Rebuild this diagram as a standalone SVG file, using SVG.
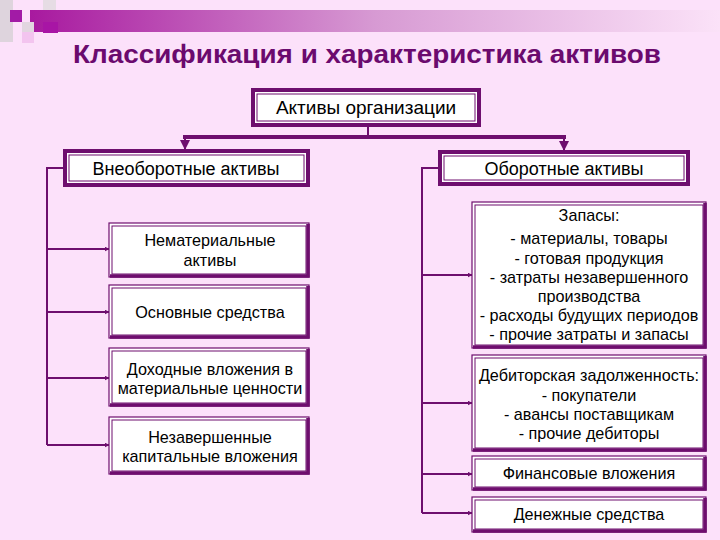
<svg xmlns="http://www.w3.org/2000/svg" width="720" height="540" viewBox="0 0 720 540">
<defs>
<linearGradient id="bar" x1="0" y1="0" x2="1" y2="0">
<stop offset="0" stop-color="#A8199F"/>
<stop offset="0.5" stop-color="#D79AD3"/>
<stop offset="1" stop-color="#FBE2F8"/>
</linearGradient>
<marker id="ah" viewBox="0 0 10 10" refX="9" refY="5" markerWidth="5" markerHeight="5" orient="auto" markerUnits="userSpaceOnUse">
<path d="M0,0 L10,5 L0,10 z" fill="#6E0E6E"/>
</marker>
<marker id="ahd" viewBox="0 0 10 10" refX="9" refY="5" markerWidth="10" markerHeight="10" orient="auto" markerUnits="userSpaceOnUse">
<path d="M0,0 L10,5 L0,10 z" fill="#6E0E6E"/>
</marker>
</defs>
<style>
.bg{fill:#FCE1FA}
.t{font-family:"Liberation Sans",Arial,sans-serif;fill:#000;text-anchor:middle}
.c{font-size:16.2px}
.h{font-size:18px}
.r{font-size:19px}
.title{font-family:"Liberation Sans",Arial,sans-serif;font-weight:bold;font-size:26px;fill:#6B0A6E;text-anchor:middle}
.hb{fill:#fff;stroke:#6E0E6E;stroke-width:4}
.hi{fill:none;stroke:#6E0E6E;stroke-width:1}
.ob{fill:#fff;stroke:#6E0E6E;stroke-width:1.2}
.ib{fill:none;stroke:#6E0E6E;stroke-width:1}
.thick{fill:none;stroke:#6E0E6E;stroke-width:3.5}
.ln{fill:none;stroke:#6E0E6E;stroke-width:2}
.lnb{fill:none;stroke:#6E0E6E;stroke-width:4}
</style>
<rect class="bg" x="0" y="0" width="720" height="540"/>
<g id="decor">
<rect x="30" y="10" width="690" height="22" fill="url(#bar)"/>
<rect x="0" y="0" width="13" height="42" fill="#DED4DD"/>
<rect x="43" y="0" width="13" height="10" fill="#E6DCE4"/>
<rect x="10" y="10" width="12" height="12" fill="#A21BA6"/>
<rect x="22" y="22" width="12" height="10" fill="#E2D6E0"/>
<rect x="22" y="32" width="12" height="11" fill="#F3C4EF"/>
<rect x="43" y="22" width="15" height="11" fill="#A815A5"/>
</g>
<text class="title" x="367" y="63" textLength="588" lengthAdjust="spacingAndGlyphs">Классификация и характеристика активов</text>

<g id="connectors">
<path class="ln" d="M368,126 V137"/>
<path class="lnb" d="M183,137 H566"/>
<path class="ln" d="M185,137 V149" marker-end="url(#ahd)"/>
<path class="ln" d="M564,137 V150" marker-end="url(#ahd)"/>
<path class="ln" d="M63,168 H47 V445"/>
<path class="ln" d="M47,249 H109" marker-end="url(#ah)"/>
<path class="ln" d="M47,312 H109" marker-end="url(#ah)"/>
<path class="ln" d="M47,378 H109" marker-end="url(#ah)"/>
<path class="ln" d="M47,445 H109" marker-end="url(#ah)"/>
<path class="ln" d="M438,168 H422 V513"/>
<path class="ln" d="M422,275 H472" marker-end="url(#ah)"/>
<path class="ln" d="M422,403 H472" marker-end="url(#ah)"/>
<path class="ln" d="M422,474 H472" marker-end="url(#ah)"/>
<path class="ln" d="M422,513 H472" marker-end="url(#ah)"/>
</g>

<g id="root">
<rect class="hb" x="253" y="90" width="226" height="35"/>
<rect class="hi" x="257" y="94" width="218" height="27"/>
<text class="t r" x="366" y="114">Активы организации</text>
</g>
<g id="noncurrent">
<rect class="hb" x="65" y="151" width="243" height="34"/>
<rect class="hi" x="69" y="155" width="235" height="26"/>
<text class="t h" x="186" y="175">Внеоборотные активы</text>
</g>
<g id="current">
<rect class="hb" x="440" y="152" width="248" height="32"/>
<rect class="hi" x="444" y="156" width="240" height="24"/>
<text class="t h" x="564" y="175">Оборотные активы</text>
</g>

<g id="intangible">
<rect class="ob" x="109" y="223" width="200" height="54"/>
<rect class="ib" x="112" y="226" width="194" height="48"/>
<path class="thick" d="M308,224 V276 H110"/>
<text class="t c" x="210" y="246">Нематериальные</text>
<text class="t c" x="210" y="266">активы</text>
</g>
<g id="fixed">
<rect class="ob" x="109" y="285" width="200" height="53"/>
<rect class="ib" x="112" y="288" width="194" height="47"/>
<path class="thick" d="M308,286 V337 H110"/>
<text class="t c" x="210" y="318">Основные средства</text>
</g>
<g id="income">
<rect class="ob" x="109" y="348" width="200" height="58"/>
<rect class="ib" x="112" y="351" width="194" height="52"/>
<path class="thick" d="M308,349 V405 H110"/>
<text class="t c" x="210" y="375">Доходные вложения в</text>
<text class="t c" x="210" y="394">материальные ценности</text>
</g>
<g id="construction">
<rect class="ob" x="109" y="417" width="200" height="57"/>
<rect class="ib" x="112" y="420" width="194" height="51"/>
<path class="thick" d="M308,418 V473 H110"/>
<text class="t c" x="210" y="443">Незавершенные</text>
<text class="t c" x="210" y="462">капитальные вложения</text>
</g>

<g id="inventory">
<rect class="ob" x="472" y="202" width="234" height="146"/>
<rect class="ib" x="475" y="205" width="228" height="140"/>
<path class="thick" d="M705,203 V347 H473"/>
<text class="t c" x="589" y="221">Запасы:</text>
<text class="t c" x="589" y="244">- материалы, товары</text>
<text class="t c" x="589" y="264">- готовая продукция</text>
<text class="t c" x="589" y="283">- затраты незавершенного</text>
<text class="t c" x="589" y="302">производства</text>
<text class="t c" x="589" y="321">- расходы будущих периодов</text>
<text class="t c" x="589" y="340">- прочие затраты и запасы</text>
</g>
<g id="receivables">
<rect class="ob" x="472" y="355" width="234" height="96"/>
<rect class="ib" x="475" y="358" width="228" height="90"/>
<path class="thick" d="M705,356 V450 H473"/>
<text class="t c" x="589" y="381">Дебиторская задолженность:</text>
<text class="t c" x="589" y="401">- покупатели</text>
<text class="t c" x="589" y="420">- авансы поставщикам</text>
<text class="t c" x="589" y="439">- прочие дебиторы</text>
</g>
<g id="financial">
<rect class="ob" x="472" y="456" width="234" height="34"/>
<rect class="ib" x="475" y="459" width="228" height="28"/>
<path class="thick" d="M705,457 V489 H473"/>
<text class="t c" x="589" y="479">Финансовые вложения</text>
</g>
<g id="cash">
<rect class="ob" x="472" y="497" width="234" height="35"/>
<rect class="ib" x="475" y="500" width="228" height="29"/>
<path class="thick" d="M705,498 V531 H473"/>
<text class="t c" x="589" y="520">Денежные средства</text>
</g>
</svg>
